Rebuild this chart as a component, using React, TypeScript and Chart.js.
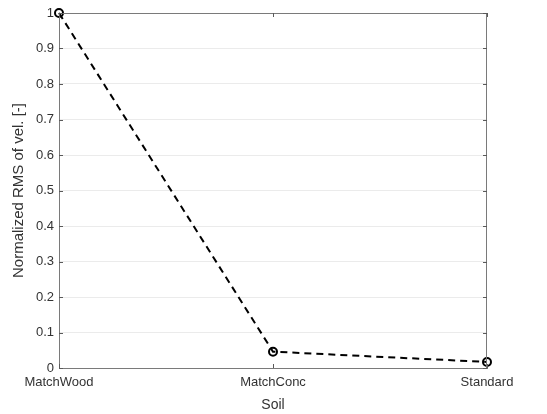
import React, { useEffect, useRef } from "react";
import { Chart, registerables } from "chart.js";

Chart.register(...registerables);

const categories = ["MatchWood", "MatchConc", "Standard"];
const rmsValues = [1.0, 0.046, 0.017];
const yTicks = [0, 0.1, 0.2, 0.3, 0.4, 0.5, 0.6, 0.7, 0.8, 0.9, 1];

const FONT = "'Liberation Sans', Arial, Helvetica, sans-serif";

const boxTicks = {
  id: "boxTicks",
  afterDatasetsDraw(chart: any) {
    const { ctx, chartArea, scales } = chart;
    const x = scales.x;
    const y = scales.y;
    ctx.save();
    ctx.strokeStyle = "#7a7a7a";
    ctx.lineWidth = 1;
    ctx.strokeRect(chartArea.left + 0.5, chartArea.top + 0.5, chartArea.right - chartArea.left - 1, chartArea.bottom - chartArea.top);
    ctx.strokeStyle = "#5a5a5a";
    const L = 4;
    ctx.beginPath();
    for (let i = 0; i < categories.length; i++) {
      const px = Math.round(x.getPixelForValue(i)) + 0.5;
      ctx.moveTo(px, chartArea.bottom);
      ctx.lineTo(px, chartArea.bottom - L);
      ctx.moveTo(px, chartArea.top);
      ctx.lineTo(px, chartArea.top + L);
    }
    for (const v of yTicks) {
      const py = Math.round(y.getPixelForValue(v)) + 0.5;
      ctx.moveTo(chartArea.left, py);
      ctx.lineTo(chartArea.left + L, py);
      ctx.moveTo(chartArea.right, py);
      ctx.lineTo(chartArea.right - L, py);
    }
    ctx.stroke();
    ctx.restore();
  },
};

export default function App() {
  const ref = useRef<HTMLCanvasElement>(null);
  useEffect(() => {
    const chart = new Chart(ref.current!, {
      type: "line",
      data: {
        labels: categories,
        datasets: [
          {
            data: rmsValues,
            borderColor: "#000",
            borderWidth: 2,
            borderDash: [7, 5],
            pointRadius: 4,
            pointBorderWidth: 2,
            pointBackgroundColor: "rgba(0,0,0,0)",
            pointBorderColor: "#000",
            tension: 0,
            clip: false as any,
          },
        ],
      },
      options: {
        animation: false,
        responsive: false,
        layout: { padding: { left: 0, top: 13, right: 60, bottom: 0 } },
        plugins: { legend: { display: false }, tooltip: { enabled: false } },
        scales: {
          x: {
            type: "category",
            offset: false,
            grid: { display: false, drawTicks: false },
            border: { display: true, color: "#7a7a7a" },
            ticks: { color: "#333", font: { family: FONT, size: 13 }, padding: 7, maxRotation: 0, autoSkip: false },
            title: { display: true, text: "Soil", color: "#333", font: { family: FONT, size: 14 }, padding: { top: 2, bottom: 0 } },
            afterFit(scale: any) {
              scale.height = 46;
            },
          },
          y: {
            min: 0,
            max: 1,
            grid: { color: "#ebebeb", drawTicks: false },
            border: { display: true, color: "#7a7a7a" },
            ticks: {
              stepSize: 0.1,
              color: "#333",
              font: { family: FONT, size: 13 },
              padding: 5,
              callback: (v: any) => String(Math.round(Number(v) * 10) / 10),
            },
            title: { display: true, text: "Normalized RMS of vel. [-]", color: "#333", font: { family: FONT, size: 15 }, padding: { top: 10, bottom: 4 } },
            afterFit(scale: any) {
              scale.width = 59;
            },
          },
        },
      },
      plugins: [boxTicks],
    });
    return () => chart.destroy();
  }, []);
  return (
    <div style={{ position: "fixed", left: 0, top: 0, width: 547, height: 414, background: "#fff" }}>
      <canvas ref={ref} width={547} height={414} style={{ display: "block" }} />
    </div>
  );
}
